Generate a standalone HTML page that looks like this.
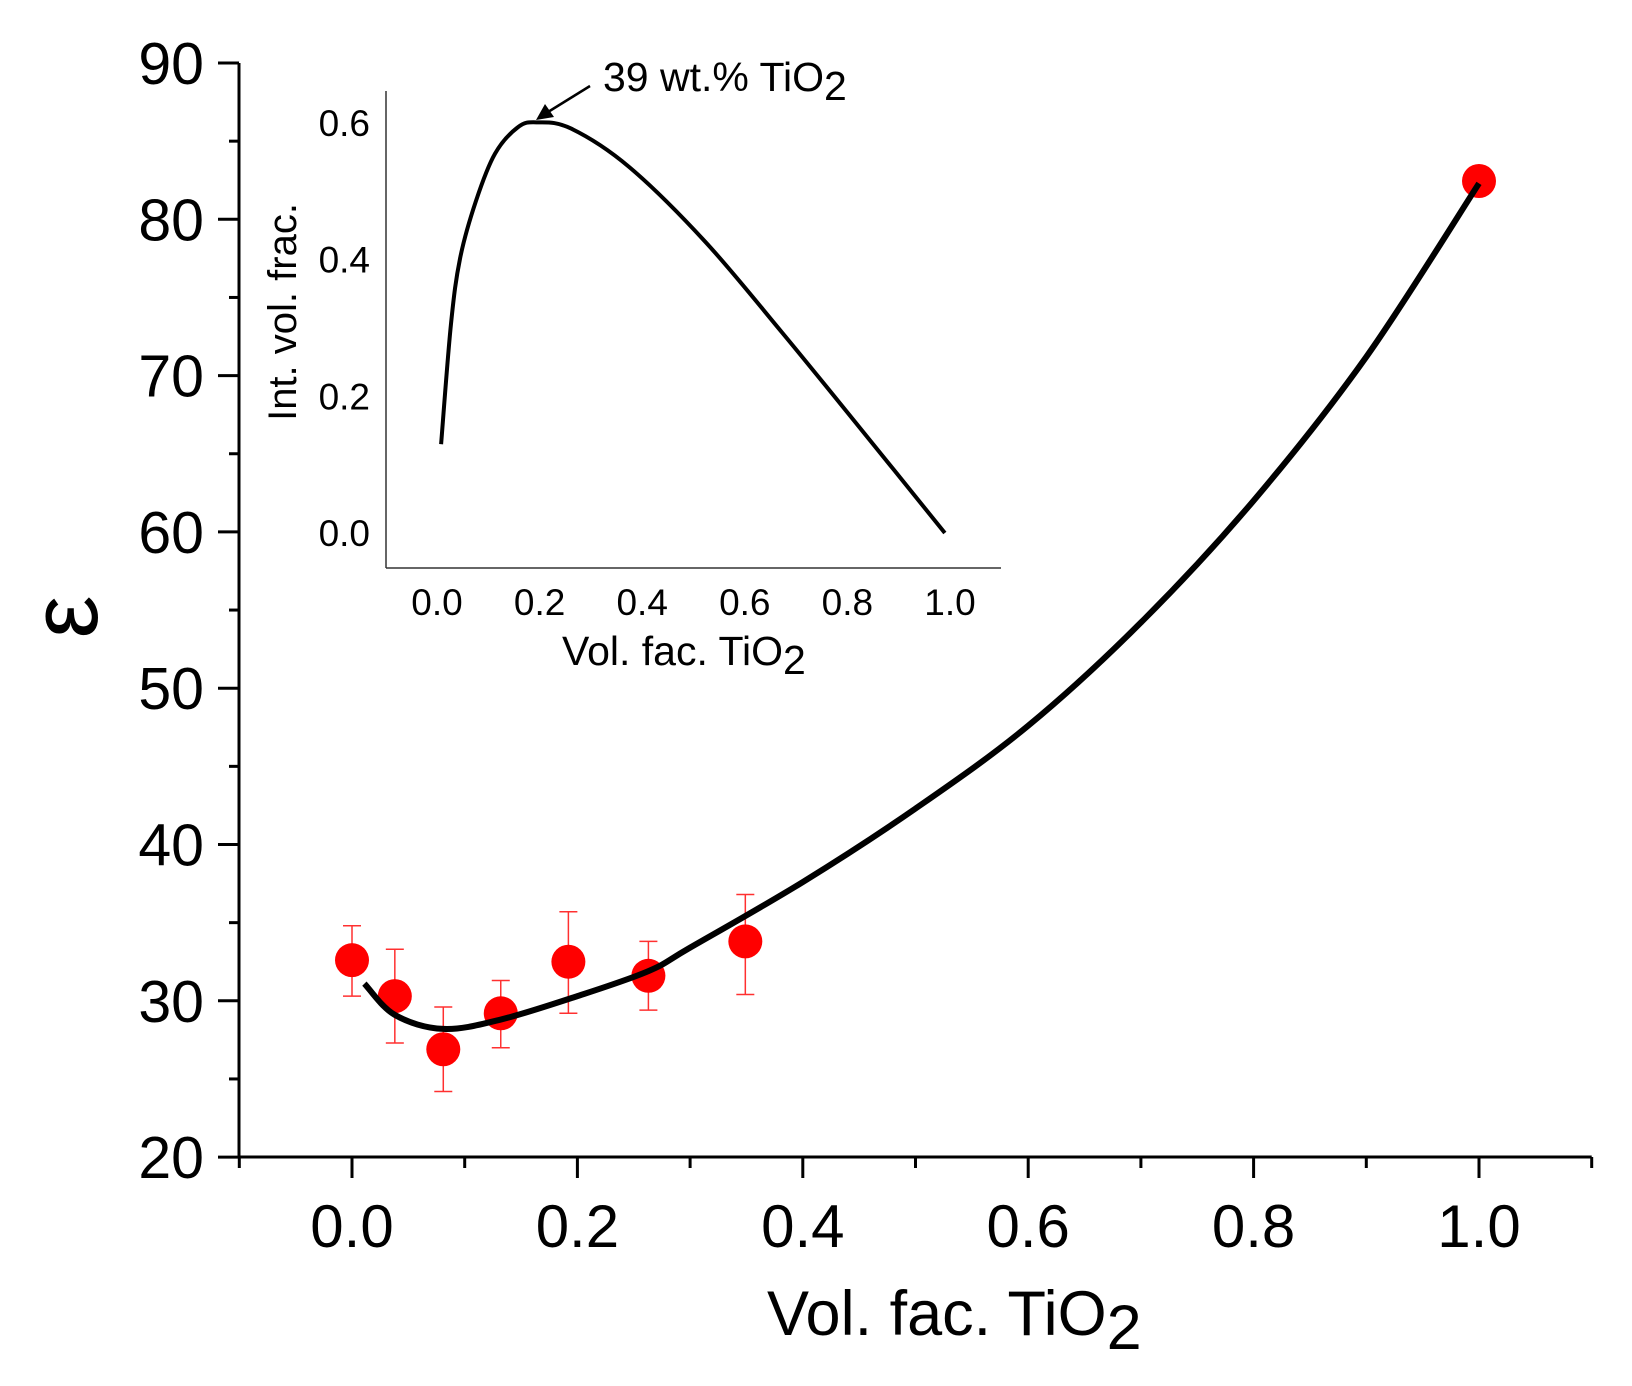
<!DOCTYPE html>
<html><head><meta charset="utf-8"><style>
html,body{margin:0;padding:0;background:#fff;}
svg{display:block;font-family:"Liberation Sans",Arial,sans-serif;}
</style></head><body>
<svg id="chart" width="1632" height="1386" viewBox="0 0 1632 1386" xmlns="http://www.w3.org/2000/svg">
<g id="main"></g>
<g id="inset"></g>
</svg>
<script>
// Main chart data
const pointX = [0.0, 0.038, 0.081, 0.132, 0.192, 0.263, 0.349, 1.0];
const pointY = [32.6, 30.3, 26.9, 29.2, 32.5, 31.6, 33.8, 82.45];
const errHigh = [34.8, 33.3, 29.6, 31.3, 35.7, 33.8, 36.8, null];
const errLow = [30.3, 27.3, 24.2, 27.0, 29.2, 29.4, 30.4, null];
const fitX = [0.011, 0.038, 0.081, 0.132, 0.2, 0.263, 0.3, 0.4, 0.5, 0.6, 0.7, 0.8, 0.9, 1.0];
const fitY = [31.1, 29.1, 28.2, 28.8, 30.3, 31.9, 33.4, 37.6, 42.3, 47.6, 54.2, 62.0, 71.2, 82.3];
const xTicks = ["0.0","0.2","0.4","0.6","0.8","1.0"];
const yTicks = ["20","30","40","50","60","70","80","90"];
// Inset data
const insetX = [0.008, 0.027, 0.045, 0.076, 0.113, 0.158, 0.195, 0.261, 0.374, 0.522, 0.672, 0.821, 0.99];
const insetY = [0.130, 0.304, 0.402, 0.486, 0.555, 0.594, 0.601, 0.592, 0.536, 0.427, 0.294, 0.157, 0.0];
const insetXTicks = ["0.0","0.2","0.4","0.6","0.8","1.0"];
const insetYTicks = ["0.0","0.2","0.4","0.6"];

const NS="http://www.w3.org/2000/svg";
function mk(parent,tag,attrs,text){const e=document.createElementNS(NS,tag);for(const k in attrs)e.setAttribute(k,attrs[k]);if(text!==undefined)e.textContent=text;parent.appendChild(e);return e;}
function smooth(pts){let d="M"+pts[0][0]+","+pts[0][1];for(let i=0;i<pts.length-1;i++){const p0=pts[i-1]||pts[i],p1=pts[i],p2=pts[i+1],p3=pts[i+2]||p2;const c1x=p1[0]+(p2[0]-p0[0])/6,c1y=p1[1]+(p2[1]-p0[1])/6,c2x=p2[0]-(p3[0]-p1[0])/6,c2y=p2[1]-(p3[1]-p1[1])/6;d+=" C"+c1x+","+c1y+" "+c2x+","+c2y+" "+p2[0]+","+p2[1];}return d;}

// main axes
const mx=v=>352+v*1127, my=v=>63+(90-v)*15.63;
const G=document.getElementById('main');
let e;
e=mk(G,'line',{x1:239,y1:my(90),x2:239,y2:1157,stroke:'#000','stroke-width':3});


e=mk(G,'line',{x1:239,y1:1157,x2:mx(1.1),y2:1157,stroke:'#000','stroke-width':3});


for(let v=20;v<=90;v+=5){const major=v%10===0;mk(G,'line',{x1:major?218:229,y1:my(v),x2:239,y2:my(v),stroke:'#000','stroke-width':3});}
yTicks.forEach(t=>{e=mk(G,'text',{x:204,y:my(+t)+21,'text-anchor':'end','font-size':59},t);

});
for(let i=-1;i<=11;i++){const v=i/10;const major=i>=0&&i%2===0;mk(G,'line',{x1:mx(v),y1:1157,x2:mx(v),y2:major?1178:1168,stroke:'#000','stroke-width':3});}
xTicks.forEach(t=>{e=mk(G,'text',{x:mx(+t),y:1247,'text-anchor':'middle','font-size':60},t);

});
e=mk(G,'text',{x:767,y:1335,'font-size':63},'Vol. fac. TiO');


mk(e,'tspan',{dy:14},'2');
e=mk(G,'text',{x:0,y:0,'font-size':96,'text-anchor':'middle',transform:'translate(97,617) rotate(-90)'},'ε');


// error bars
pointX.forEach((x,i)=>{if(errHigh[i]==null)return;const cx=mx(x);
e=mk(G,'g',{stroke:'#ff3030','stroke-width':1.5});


mk(e,'line',{x1:cx,y1:my(errHigh[i]),x2:cx,y2:my(errLow[i])});
mk(e,'line',{x1:cx-9,y1:my(errHigh[i]),x2:cx+9,y2:my(errHigh[i])});
mk(e,'line',{x1:cx-9,y1:my(errLow[i]),x2:cx+9,y2:my(errLow[i])});});
// points
pointX.forEach((x,i)=>{e=mk(G,'circle',{cx:mx(x),cy:my(pointY[i]),r:17,fill:'#ff0000'});

});
// fit
e=mk(G,'path',{d:smooth(fitX.map((x,i)=>[mx(x),my(fitY[i])])),fill:'none',stroke:'#000','stroke-width':6});



// inset
const ix=v=>437+v*513, iy=v=>533-v*683.3;
const I=document.getElementById('inset');
e=mk(I,'line',{x1:386,y1:91,x2:386,y2:568,stroke:'#333','stroke-width':1.5});


e=mk(I,'line',{x1:386,y1:568,x2:1001,y2:568,stroke:'#333','stroke-width':1.5});


insetYTicks.forEach(t=>{e=mk(I,'text',{x:370,y:iy(+t)+13,'text-anchor':'end','font-size':37},t);

});
insetXTicks.forEach(t=>{e=mk(I,'text',{x:ix(+t),y:615,'text-anchor':'middle','font-size':37},t);

});
e=mk(I,'text',{x:562,y:665,'font-size':41},'Vol. fac. TiO');


mk(e,'tspan',{dy:9},'2');
e=mk(I,'text',{x:0,y:0,'font-size':40,'text-anchor':'middle',transform:'translate(296,312) rotate(-90)'},'Int. vol. frac.');


e=mk(I,'path',{d:smooth(insetX.map((x,i)=>[ix(x),iy(insetY[i])])),fill:'none',stroke:'#000','stroke-width':4});


// annotation
e=mk(I,'line',{x1:590,y1:86,x2:548,y2:112,stroke:'#000','stroke-width':2.5});


mk(I,'polygon',{points:'536,120 545,104 554,117',fill:'#000'});
e=mk(I,'text',{x:603,y:91,'font-size':41},'39 wt.% TiO');


mk(e,'tspan',{dy:9},'2');
</script>
</body></html>
